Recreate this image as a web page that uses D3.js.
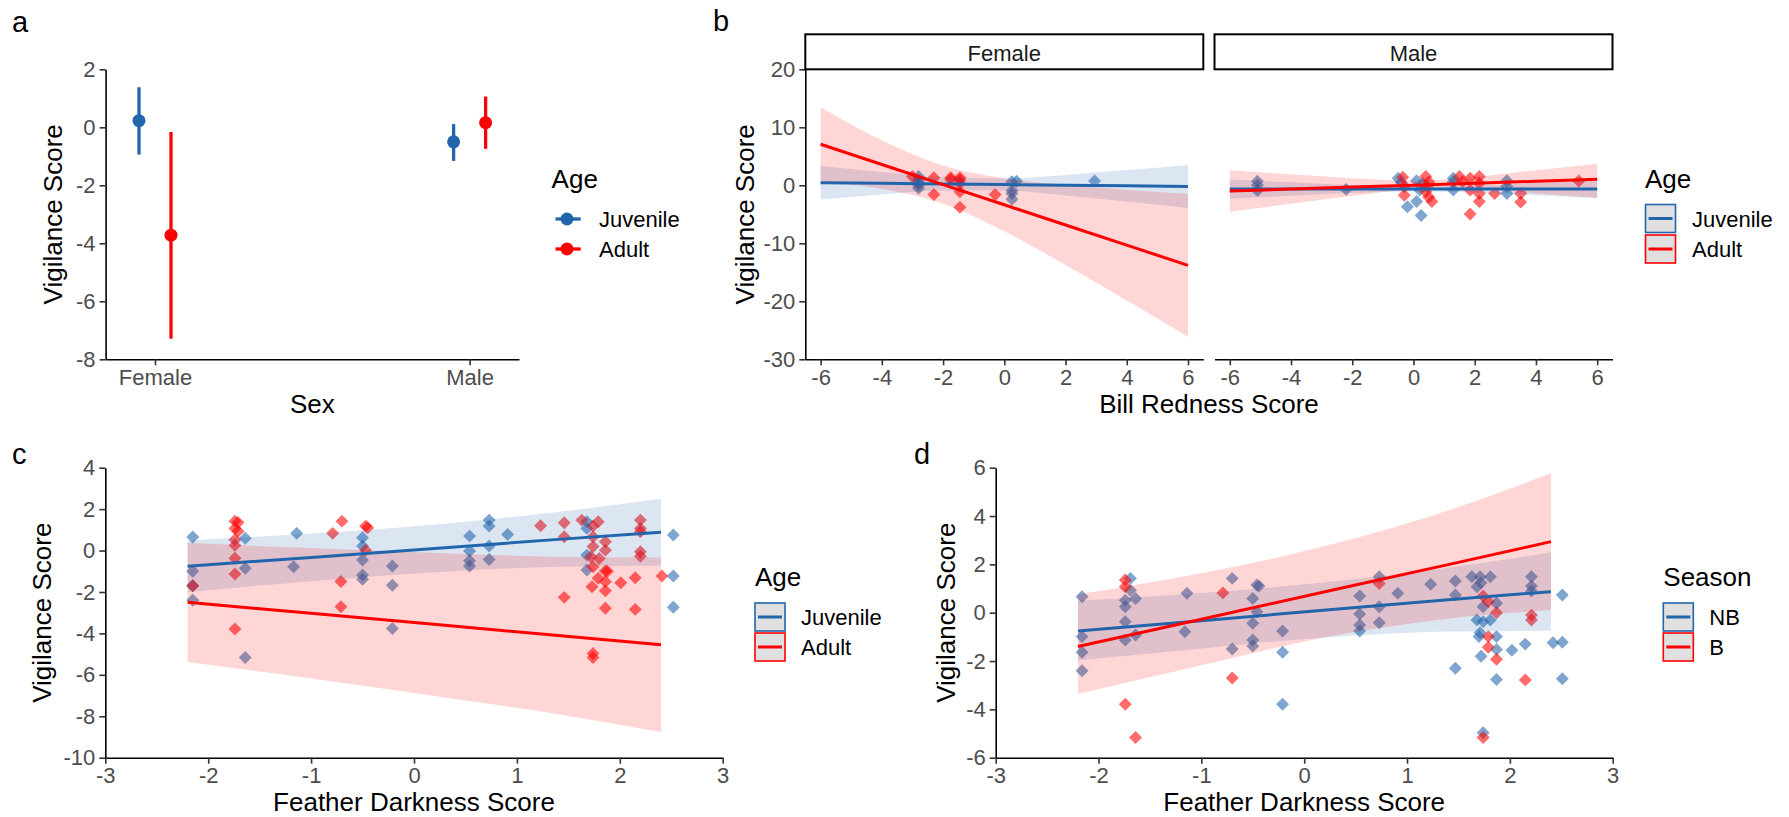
<!DOCTYPE html>
<html>
<head>
<meta charset="utf-8">
<script src="https://cdn.jsdelivr.net/npm/d3@7"></script>
<style>
  body { margin: 0; background: #fff; }
  text { font-family: "Liberation Sans", Arial, sans-serif; }
</style>
</head>
<body>
<div id="chart"></div>
<script>
const W = 1789, H = 817;
const blue = "#2166AC", red = "#FF0000";

// ---- panel a: means and intervals by sex
const sexes = ["Female", "Male"];
const juvMean = [0.23, -0.5], juvLow = [-0.94, -1.16], juvHigh = [1.38, 0.11];
const adMean = [-3.72, 0.16], adLow = [-7.29, -0.74], adHigh = [-0.16, 1.06];
const aTicks = [2, 0, -2, -4, -6, -8];

// ---- panel b: bill redness fits (per facet) and points
const billX = [-6, -4, -2, 0, 2, 4, 6];
const femJuvFit = [0.45, 0.34, 0.23, 0.13, 0.02, -0.09, -0.2];
const femJuvLo  = [-2.46, -1.6, -0.91, -0.91, -1.74, -2.8, -3.92];
const femJuvHi  = [3.36, 2.28, 1.37, 1.17, 1.78, 2.62, 3.52];
const femAdFit  = [7.07, 3.59, 0.11, -3.36, -6.84, -10.32, -13.8];
const femAdLo   = [0.67, -0.6, -3.19, -7.93, -13.74, -19.86, -26.1];
const femAdHi   = [13.47, 7.78, 3.41, 1.21, 0.06, -0.78, -1.5];
const maleJuvFit = [-0.65, -0.65, -0.65, -0.65, -0.65, -0.65, -0.65];
const maleJuvLo  = [-2.3, -1.81, -1.34, -1.05, -1.26, -1.71, -2.2];
const maleJuvHi  = [1.0, 0.51, 0.04, -0.25, -0.04, 0.41, 0.9];
const maleAdFit  = [-0.98, -0.645, -0.31, 0.025, 0.36, 0.695, 1.03];
const maleAdLo   = [-4.55, -3.18, -1.84, -0.74, -0.68, -1.4, -2.2];
const maleAdHi   = [2.59, 1.89, 1.22, 0.79, 1.4, 2.6, 3.7];

const femJuvPts = [[-2.8,1.5],[-2.8,0.9],[-2.8,0.5],[-2.8,0.0],[-2.8,-0.5],[0.25,0.6],[0.4,0.7],[0.25,-0.9],[0.25,-1.4],[0.25,-2.4],[2.95,0.75]];
const femAdPts = [[-3.0,1.5],[-2.3,1.3],[-2.3,-1.6],[-1.75,1.3],[-1.75,1.0],[-1.45,1.3],[-1.45,0.9],[-1.45,0.3],[-1.45,-1.1],[-1.45,-3.8],[-0.3,-1.6]];
const maleJuvPts = [[-5.1,0.7],[-5.1,0.0],[-5.1,-0.9],[-2.2,-0.7],[-0.5,1.2],[-0.4,0.5],[-0.2,-3.7],[0.1,0.8],[0.1,-2.8],[0.25,-5.2],[0.2,-0.8],[0.3,0.3],[1.3,1.2],[1.3,0.6],[1.3,-0.8],[3.05,0.8],[3.05,-0.2],[3.05,-1.4]];
const maleAdPts = [[-0.35,1.4],[-0.3,-0.2],[-0.3,-1.7],[0.4,1.5],[0.5,0.6],[0.45,-0.2],[0.4,-1.1],[0.5,-2.0],[0.6,-2.8],[1.5,1.5],[1.6,0.6],[1.85,1.2],[1.85,-0.8],[1.85,-4.95],[2.15,1.5],[2.15,0.35],[2.15,-1.4],[2.15,-2.8],[2.65,-1.4],[3.5,-1.4],[3.5,-2.9],[5.4,0.75]];
const bTicksY = [20, 10, 0, -10, -20, -30];
const bTicksX = [-6, -4, -2, 0, 2, 4, 6];

// ---- panel c: feather darkness by age
const featherX = [-2.2, -1, 0.3, 1.4, 2.4];
const cJuvFit = [-0.76, -0.33, 0.14, 0.54, 0.88];
const cJuvLo  = [-2.01, -1.48, -1.02, -0.78, -0.73];
const cJuvHi  = [0.49, 0.82, 1.3, 1.86, 2.5];
const cAdFit  = [-2.5, -3.03, -3.61, -4.1, -4.55];
const cAdLo   = [-5.38, -6.18, -7.09, -7.9, -8.76];
const cAdHi   = [0.38, 0.12, -0.13, -0.3, -0.34];
const cJuvPts = [[-2.15,0.65],[-2.15,-1.0],[-2.15,-1.7],[-2.15,-2.4],[-1.64,0.59],[-1.64,-0.86],[-1.64,-5.16],[-1.14,0.83],[-1.17,-0.78],[-0.5,0.62],[-0.5,0.22],[-0.5,-0.46],[-0.5,-1.18],[-0.5,-1.39],[-0.21,-0.75],[-0.21,-1.67],[-0.21,-3.76],[0.54,0.7],[0.54,-0.02],[0.54,-0.49],[0.54,-0.75],[0.73,1.47],[0.73,1.18],[0.73,0.22],[0.73,-0.43],[0.91,0.78],[1.68,1.39],[1.68,1.07],[1.68,-0.22],[1.68,-0.94],[2.52,0.75],[2.52,-1.23],[2.52,-2.74]];
const cAdPts = [[-2.15,-1.7],[-1.74,1.42],[-1.71,1.35],[-1.74,1.07],[-1.71,0.93],[-1.74,0.52],[-1.74,0.25],[-1.74,-0.37],[-1.74,-1.13],[-1.74,-3.79],[-0.79,0.83],[-0.7,1.42],[-0.71,-1.49],[-0.71,-2.71],[-0.47,1.18],[-0.45,1.1],[-0.47,0.02],[1.23,1.2],[1.46,1.34],[1.46,0.67],[1.46,-2.26],[1.63,1.47],[1.74,1.18],[1.74,0.67],[1.74,0.19],[1.72,-0.3],[1.74,-0.78],[1.73,-1.75],[1.74,-4.97],[1.74,-5.16],[1.79,1.39],[1.8,-0.38],[1.79,-1.34],[1.86,0.43],[1.86,0.02],[1.86,-0.99],[1.88,-1.0],[1.86,-1.5],[1.86,-1.94],[1.86,-2.79],[2.01,-1.55],[2.15,-1.31],[2.15,-2.84],[2.2,1.47],[2.2,1.07],[2.2,0.91],[2.2,-0.06],[2.2,-0.27],[2.41,-1.23]];
const cTicksY = [4, 2, 0, -2, -4, -6, -8, -10];

// ---- panel d: feather darkness by season
const dNBFit = [-0.76, -0.33, 0.14, 0.54, 0.87];
const dNBLo  = [-1.98, -1.48, -1.0, -0.78, -0.75];
const dNBHi  = [0.5, 0.82, 1.3, 1.86, 2.5];
const dBFit  = [-1.4, -0.27, 0.96, 1.99, 2.94];
const dBLo   = [-3.36, -2.17, -0.94, -0.25, 0.11];
const dBHi   = [0.76, 1.63, 2.86, 4.23, 5.77];
const dNBPts = [[-2.16,0.66],[-2.16,-0.99],[-2.16,-1.64],[-2.16,-2.4],[-1.69,1.42],[-1.69,0.93],[-1.74,0.52],[-1.74,0.25],[-1.74,-0.37],[-1.74,-1.13],[-1.64,0.59],[-1.64,-0.92],[-1.14,0.8],[-1.16,-0.79],[-0.7,1.42],[-0.7,-1.5],[-0.5,0.59],[-0.46,1.15],[-0.44,1.1],[-0.46,0.04],[-0.5,-0.44],[-0.5,-1.13],[-0.5,-1.38],[-0.21,-0.76],[-0.21,-1.64],[-0.21,-3.79],[0.54,0.69],[0.54,-0.05],[0.54,-0.51],[0.54,-0.76],[0.73,1.49],[0.73,0.25],[0.73,-0.42],[0.91,0.8],[1.23,1.18],[1.47,1.31],[1.47,0.73],[1.47,-2.3],[1.63,1.49],[1.71,1.49],[1.81,1.49],[1.72,1.24],[1.68,1.07],[1.74,0.25],[1.68,-0.3],[1.74,-0.37],[1.81,-0.3],[1.71,-0.83],[1.7,-0.99],[1.87,0.39],[1.87,-0.99],[1.87,-1.52],[1.87,-2.76],[1.72,-1.8],[2.02,-1.55],[2.15,-1.3],[2.21,1.49],[2.21,1.1],[2.21,0.9],[2.42,-1.24],[2.51,0.73],[2.51,-1.22],[2.51,-2.73],[1.74,-4.97]];
const dBPts = [[-1.74,1.35],[-1.74,1.07],[-1.74,-3.79],[-1.64,-5.16],[-0.79,0.82],[-0.7,-2.7],[0.73,1.21],[1.74,0.69],[1.79,0.46],[1.87,0.0],[1.87,-1.93],[1.79,-0.99],[1.79,-1.43],[2.15,-2.78],[2.21,-0.1],[2.21,-0.3],[1.74,-5.16]];
const dTicksY = [6, 4, 2, 0, -2, -4, -6];
const featherTicks = [-3, -2, -1, 0, 1, 2, 3];

const svg = d3.select("#chart").append("svg")
  .attr("width", W).attr("height", H);
svg.append("rect").attr("width", W).attr("height", H).attr("fill", "#fff");

// axis styling, ggplot classic look
function styleAxis(ax) {
  ax.attr("font-size", 22).attr("font-family", null);
  ax.select(".domain").attr("stroke", "#000").attr("stroke-width", 1.6);
  ax.selectAll(".tick line").attr("stroke", "#333").attr("stroke-width", 1.6);
  ax.selectAll(".tick text").attr("fill", "#4D4D4D");
}
function leftAxis(scale, ticks, x0) {
  const ax = svg.append("g").attr("transform", "translate(" + x0 + ",0)")
    .call(d3.axisLeft(scale).tickValues(ticks).tickFormat(d => String(d))
      .tickSize(6).tickSizeOuter(0).tickPadding(4));
  styleAxis(ax);
}
function bottomAxis(scale, ticks, y0) {
  const axis = d3.axisBottom(scale).tickSize(6).tickSizeOuter(0).tickPadding(4);
  if (ticks) axis.tickValues(ticks).tickFormat(d => String(d));
  const ax = svg.append("g").attr("transform", "translate(0," + y0 + ")").call(axis);
  styleAxis(ax);
}
function label(txt, x, y, size, anchor) {
  return svg.append("text").attr("x", x).attr("y", y)
    .attr("font-size", size).attr("text-anchor", anchor || "start")
    .attr("fill", "#000").text(txt);
}
function yTitle(txt, x, cy) {
  svg.append("text").attr("transform", "translate(" + x + "," + cy + ") rotate(-90)")
    .attr("text-anchor", "middle").attr("font-size", 26).text(txt);
}

const diamond = d3.symbol().type(d3.symbolSquare).size(84);
function points(pts, x, y, color) {
  svg.append("g").selectAll("path").data(pts).join("path")
    .attr("d", diamond)
    .attr("transform", d => "translate(" + x(d[0]) + "," + y(d[1]) + ") rotate(45)")
    .attr("fill", color).attr("fill-opacity", 0.58);
}
function band(xs, lo, hi, x, y, color) {
  const area = d3.area().curve(d3.curveMonotoneX)
    .x((d, i) => x(xs[i])).y0((d, i) => y(lo[i])).y1((d, i) => y(hi[i]));
  svg.append("path").attr("d", area(xs)).attr("fill", color).attr("fill-opacity", 0.16);
}
function fitLine(xs, fit, x, y, color) {
  const line = d3.line().x((d, i) => x(xs[i])).y((d, i) => y(fit[i]));
  svg.append("path").attr("d", line(xs)).attr("fill", "none")
    .attr("stroke", color).attr("stroke-width", 3);
}
function boxKey(x0, y0, color, txt, lx) {
  svg.append("rect").attr("x", x0).attr("y", y0).attr("width", 30).attr("height", 28)
    .attr("fill", "#E0E0E0").attr("stroke", color).attr("stroke-width", 1.6);
  svg.append("line").attr("x1", x0 + 3).attr("x2", x0 + 27)
    .attr("y1", y0 + 14).attr("y2", y0 + 14).attr("stroke", color).attr("stroke-width", 3);
  label(txt, lx, y0 + 22, 22);
}

// ================= panel a
const xa = d3.scalePoint().domain(sexes).range([105.6, 519]).padding(0.157);
const ya = d3.scaleLinear().domain([-8, 2]).range([359.3, 69.3]);
const dodge = 16;
leftAxis(ya, aTicks, 105.6);
bottomAxis(xa, null, 359.3);

[[juvMean, juvLow, juvHigh, blue, -dodge], [adMean, adLow, adHigh, red, dodge]].forEach(s => {
  const [m, lo, hi, col, off] = s;
  sexes.forEach((sx, i) => {
    svg.append("line").attr("x1", xa(sx) + off).attr("x2", xa(sx) + off)
      .attr("y1", ya(lo[i])).attr("y2", ya(hi[i]))
      .attr("stroke", col).attr("stroke-width", 3.3);
    svg.append("circle").attr("cx", xa(sx) + off).attr("cy", ya(m[i])).attr("r", 6.5).attr("fill", col);
  });
});
label("a", 12, 32, 29);
yTitle("Vigilance Score", 62, 214.3);
label("Sex", 312.3, 413, 26, "middle");
label("Age", 551.6, 188, 26);
[["Juvenile", blue, 219], ["Adult", red, 249]].forEach(k => {
  svg.append("line").attr("x1", 555.5).attr("x2", 580.7).attr("y1", k[2]).attr("y2", k[2])
    .attr("stroke", k[1]).attr("stroke-width", 3.3);
  svg.append("circle").attr("cx", 567).attr("cy", k[2]).attr("r", 6.5).attr("fill", k[1]);
  label(k[0], 599, k[2] + 8, 22);
});

// ================= panel b (facets Female / Male)
const yb = d3.scaleLinear().domain([-30, 20]).range([359.3, 69.3]);
const xbF = d3.scaleLinear().domain([-6.5, 6.5]).range([805.3, 1203.3]);
const xbM = d3.scaleLinear().domain([-6.5, 6.5]).range([1214.5, 1612.5]);
leftAxis(yb, bTicksY, 805.3);
bottomAxis(xbF, bTicksX, 359.3);
bottomAxis(xbM, bTicksX, 359.3);

points(femJuvPts, xbF, yb, blue);
points(femAdPts, xbF, yb, red);
band(billX, femJuvLo, femJuvHi, xbF, yb, blue);
band(billX, femAdLo, femAdHi, xbF, yb, red);
fitLine(billX, femJuvFit, xbF, yb, blue);
fitLine(billX, femAdFit, xbF, yb, red);

points(maleJuvPts, xbM, yb, blue);
points(maleAdPts, xbM, yb, red);
band(billX, maleJuvLo, maleJuvHi, xbM, yb, blue);
band(billX, maleAdLo, maleAdHi, xbM, yb, red);
fitLine(billX, maleJuvFit, xbM, yb, blue);
fitLine(billX, maleAdFit, xbM, yb, red);

[["Female", xbF], ["Male", xbM]].forEach(f => {
  const r = f[1].range();
  svg.append("rect").attr("x", r[0]).attr("y", 34.3).attr("width", r[1] - r[0]).attr("height", 35)
    .attr("fill", "#fff").attr("stroke", "#000").attr("stroke-width", 2);
  label(f[0], (r[0] + r[1]) / 2, 61, 22, "middle").attr("fill", "#1A1A1A");
});
label("b", 713, 31, 29);
yTitle("Vigilance Score", 753.6, 214.3);
label("Bill Redness Score", 1209, 413, 26, "middle");
label("Age", 1645, 188, 26);
boxKey(1645.5, 204.5, blue, "Juvenile", 1692);
boxKey(1645.5, 235, red, "Adult", 1692);

// ================= panel c
const xc = d3.scaleLinear().domain([-3, 3]).range([105.3, 722.7]);
const yc = d3.scaleLinear().domain([-10, 4]).range([757.7, 467.7]);
leftAxis(yc, cTicksY, 105.3);
bottomAxis(xc, featherTicks, 757.7);
points(cJuvPts, xc, yc, blue);
points(cAdPts, xc, yc, red);
band(featherX, cJuvLo, cJuvHi, xc, yc, blue);
band(featherX, cAdLo, cAdHi, xc, yc, red);
fitLine(featherX, cJuvFit, xc, yc, blue);
fitLine(featherX, cAdFit, xc, yc, red);
label("c", 12, 464, 29);
yTitle("Vigilance Score", 51.3, 612.7);
label("Feather Darkness Score", 414, 811, 26, "middle");
label("Age", 755, 585.7, 26);
boxKey(755, 603, blue, "Juvenile", 801);
boxKey(755, 633, red, "Adult", 801);

// ================= panel d
const xd = d3.scaleLinear().domain([-3, 3]).range([995.7, 1612.7]);
const yd = d3.scaleLinear().domain([-6, 6]).range([757.7, 467.7]);
leftAxis(yd, dTicksY, 995.7);
bottomAxis(xd, featherTicks, 757.7);
points(dNBPts, xd, yd, blue);
points(dBPts, xd, yd, red);
band(featherX, dNBLo, dNBHi, xd, yd, blue);
band(featherX, dBLo, dBHi, xd, yd, red);
fitLine(featherX, dNBFit, xd, yd, blue);
fitLine(featherX, dBFit, xd, yd, red);
label("d", 914, 464, 29);
yTitle("Vigilance Score", 954.6, 612.7);
label("Feather Darkness Score", 1304.2, 811, 26, "middle");
label("Season", 1663.3, 585.7, 26);
boxKey(1663.3, 603, blue, "NB", 1709.3);
boxKey(1663.3, 633, red, "B", 1709.3);
</script>
</body>
</html>
